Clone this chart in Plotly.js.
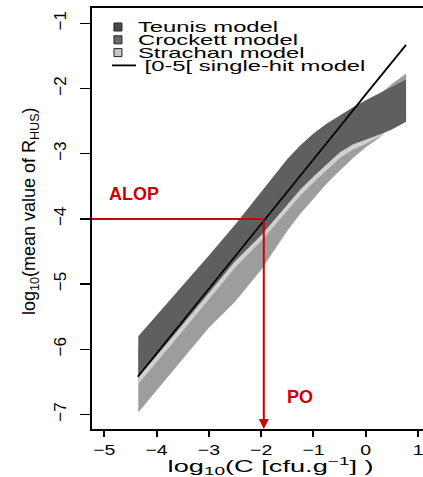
<!DOCTYPE html>
<html>
<head>
<meta charset="utf-8">
<script src="https://cdn.plot.ly/plotly-3.0.1.min.js"></script>
<style>
  html, body { margin: 0; padding: 0; background: #fff; }
  #chart { width: 423px; height: 477px; }
</style>
</head>
<body>
<div id="chart"></div>
<script>
// ---- data (log10 C on x, log10 mean R_HUS on y) ----
const bandX         = [-4.35, -4, -3.5, -3, -2.5, -2, -1.5, -1.25, -1, -0.75, -0.5, -0.25, 0, 0.25, 0.5, 0.77];
const teunisUpper   = [-5.80, -5.48, -5.02, -4.56, -4.09, -3.58, -3.08, -2.87, -2.69, -2.54, -2.41, -2.29, -2.18, -2.08, -1.97, -1.86];
const teunisLower   = [-6.43, -6.10, -5.62, -5.14, -4.65, -4.25, -3.78, -3.55, -3.35, -3.16, -2.98, -2.86, -2.78, -2.71, -2.63, -2.51];
const crockettUpper = [-6.00, -5.70, -5.25, -4.80, -4.30, -3.85, -3.35, -3.10, -2.90, -2.75, -2.60, -2.45, -2.30, -2.10, -1.93, -1.77];
const crockettLower = [-6.97, -6.63, -6.15, -5.67, -5.27, -4.78, -4.18, -3.92, -3.69, -3.46, -3.26, -3.07, -2.90, -2.76, -2.58, -2.42];
const strachanUpper = [-6.30, -5.95, -5.50, -5.00, -4.50, -4.05, -3.60, -3.35, -3.20, -3.00, -2.85, -2.70, -2.60, -2.50, -2.40, -2.30];
const strachanLower = [-6.53, -6.20, -5.72, -5.24, -4.75, -4.34, -3.87, -3.64, -3.44, -3.25, -3.07, -2.94, -2.85, -2.74, -2.60, -2.45];
const singleHitX = [-4.36, -3.5, -3, -2.5, -2, -1.5, -1, -0.5, 0, 0.5, 0.77];
const singleHitY = [-6.42, -5.57, -5.07, -4.58, -4.08, -3.59, -3.09, -2.59, -2.09, -1.60, -1.33];
const seriesNames = ['Teunis model', 'Crockett model', 'Strachan model', '\u00a0[0-5[ single-hit model'];
const alop = -4;        // ALOP level
const poX = -1.95;      // PO concentration
const xTicks = [-5, -4, -3, -2, -1, 0, 1];
const yTicks = [-1, -2, -3, -4, -5, -6, -7];
const xRange = [-5.235, 1.094];
const yRange = [-7.222, -0.765];

const FONT = 'Liberation Sans, Arial, Helvetica, sans-serif';

function band(upper, lower, color) {
  return {
    x: bandX.concat(bandX.slice().reverse()),
    y: upper.concat(lower.slice().reverse()),
    type: 'scatter', mode: 'lines', fill: 'toself',
    fillcolor: color, line: { width: 0, color: color },
    showlegend: false, hoverinfo: 'skip'
  };
}
function swatch(name, color, rank) {
  return {
    x: [null], y: [null], type: 'scatter', mode: 'markers', name: name,
    legendrank: rank,
    marker: { symbol: 'square', size: 8, color: color, line: { color: '#222', width: 1 } }
  };
}

const data = [
  band(crockettUpper, crockettLower, '#9d9d9d'),
  band(strachanUpper, strachanLower, '#d0d0d0'),
  band(teunisUpper, teunisLower, '#5f5f5f'),
  { x: singleHitX, y: singleHitY, type: 'scatter', mode: 'lines', name: seriesNames[3],
    legendrank: 4, line: { color: '#000', width: 1.8 } },
  { x: [xRange[0], poX], y: [alop, alop], type: 'scatter', mode: 'lines',
    line: { color: '#cc0000', width: 2 }, showlegend: false, cliponaxis: false },
  swatch(seriesNames[0], '#4a4a4a', 1),
  swatch(seriesNames[1], '#6a6a6a', 2),
  swatch(seriesNames[2], '#c4c4c4', 3)
];

const layout = {
  width: 423, height: 477,
  margin: { l: 92, r: 0, t: 8, b: 48, pad: 0 },
  paper_bgcolor: '#fff', plot_bgcolor: '#fff',
  font: { family: FONT, color: '#000' },
  showlegend: true,
  legend: { x: 0.018, y: 1, xanchor: 'left', yanchor: 'top', bgcolor: 'rgba(0,0,0,0)',
            font: { size: 14, family: FONT }, itemwidth: 30, tracegroupgap: 0 },
  xaxis: {
    range: xRange, tickvals: xTicks, showgrid: false, zeroline: false,
    showline: true, linewidth: 2, linecolor: '#000', mirror: true,
    ticks: 'outside', ticklen: 6, tickwidth: 2, tickcolor: '#000',
    tickfont: { size: 15, family: FONT }
  },
  yaxis: {
    range: yRange, tickvals: yTicks, showgrid: false, zeroline: false,
    showline: true, linewidth: 2, linecolor: '#000',
    ticks: 'outside', ticklen: 10, tickwidth: 1.5, tickcolor: '#000',
    tickangle: -90, ticklabelstandoff: 7,
    tickfont: { size: 17, family: FONT }
  },
  annotations: [
    { text: 'log<sub>10</sub>(C [cfu.g<sup>\u22121</sup>] )', xref: 'x', yref: 'paper',
      x: -1.83, y: 0, yanchor: 'middle', yshift: -37, showarrow: false,
      font: { size: 16, family: FONT } },
    { text: 'log<sub>10</sub>(mean value of R<sub>HUS</sub>)', xref: 'paper', yref: 'y',
      x: 0, xshift: -62, y: -3.88, xanchor: 'center', yanchor: 'middle', textangle: -90,
      showarrow: false, font: { size: 18, family: FONT } },
    { text: '<b>ALOP</b>', xref: 'x', yref: 'y', x: -4.43, y: -3.62, showarrow: false,
      font: { size: 18, family: FONT, color: '#cc0000' } },
    { text: '<b>PO</b>', xref: 'x', yref: 'y', x: -1.26, y: -6.73, showarrow: false,
      font: { size: 18, family: FONT, color: '#cc0000' } },
    { text: '', xref: 'x', yref: 'y', axref: 'x', ayref: 'y',
      x: poX, y: yRange[0], ax: poX, ay: alop, showarrow: true,
      arrowhead: 2, arrowsize: 1, arrowwidth: 2, arrowcolor: '#cc0000', standoff: 0 }
  ]
};

function stretchX(el, k, anchor) {
  const bb = el.getBBox();
  const cx = anchor === 'start' ? bb.x : bb.x + bb.width / 2;
  const t = el.getAttribute('transform') || '';
  el.setAttribute('transform',
    (t + ' translate(' + cx + ',0) scale(' + k + ',1) translate(' + (-cx) + ',0)').trim());
}
const TR = /translate\(\s*([-\d.e]+)[\s,]+([-\d.e]+)\s*\)/;

Plotly.newPlot('chart', data, layout, { displayModeBar: false, staticPlot: true }).then(function (gd) {
  // legend: tight rows and wide text as in the reference
  gd.querySelectorAll('g.legend [clip-path]').forEach(function (e) { e.removeAttribute('clip-path'); });
  const lg = gd.querySelector('g.legend');
  const lm = TR.exec(lg.getAttribute('transform') || 'translate(0,0)');
  const ly = lm ? +lm[2] : 0;
  const firstRow = 27, rowGap = 12.8;
  gd.querySelectorAll('g.legend g.traces').forEach(function (g, i) {
    const m = TR.exec(g.getAttribute('transform') || 'translate(0,0)');
    g.setAttribute('transform', 'translate(' + (m ? m[1] : 0) + ',' + (firstRow + i * rowGap - ly) + ')');
  });
  gd.querySelectorAll('g.legend path.js-line').forEach(function (p) { p.setAttribute('d', 'M14,0h24'); });
  gd.querySelectorAll('g.legend text.legendtext').forEach(function (t) { stretchX(t, 1.7, 'start'); });
  gd.querySelectorAll('g.xtick text').forEach(function (t) { stretchX(t, 1.3, 'middle'); });
  const ann = gd.querySelectorAll('g.annotation text.annotation-text');
  if (ann[0]) stretchX(ann[0], 1.7, 'middle');
});
</script>
</body>
</html>
